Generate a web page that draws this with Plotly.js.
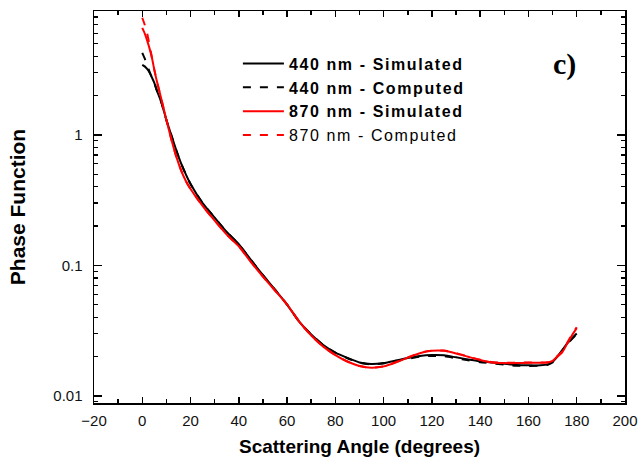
<!DOCTYPE html>
<html>
<head>
<meta charset="utf-8">
<script src="https://cdn.plot.ly/plotly-3.0.1.min.js"></script>
<style>
html,body{margin:0;padding:0;background:#fff;}
#chart{width:639px;height:464px;}
#chart .legendtext{letter-spacing:1.6px;}
#chart .legend .scrollbox{clip-path:none !important;}
#chart .legend{clip-path:none !important;}
</style>
</head>
<body>
<div id="chart"></div>
<script>
// Scattering angles (degrees)
const angles = [0,1,2,3,4,5,6,8,10,12,14,16,18,20,25,30,35,40,45,50,55,60,65,70,75,80,85,90,95,100,105,110,115,120,125,130,135,140,145,150,155,160,165,168,170,172,174,176,178,180];

// 440 nm - Simulated
const sim440 = [3.44,3.35,3.2,3.0,2.75,2.5,2.2,1.75,1.30,1.0,0.77,0.61,0.50,0.42,0.30,0.232,0.180,0.145,0.110,0.084,0.065,0.050,0.037,0.0295,0.0245,0.0214,0.0195,0.0180,0.0175,0.0178,0.0186,0.0195,0.0202,0.0205,0.0204,0.0197,0.0190,0.0184,0.0180,0.0176,0.0172,0.0171,0.0171,0.0174,0.0182,0.0200,0.0224,0.0251,0.0275,0.0300];

// 440 nm - Computed
const comp440 = [4.25,3.85,3.45,3.05,2.75,2.5,2.2,1.75,1.30,1.0,0.77,0.61,0.50,0.42,0.30,0.232,0.180,0.145,0.110,0.084,0.065,0.050,0.037,0.0295,0.0245,0.0214,0.0194,0.0179,0.0174,0.0177,0.0184,0.0192,0.0199,0.0202,0.0201,0.0194,0.0187,0.0181,0.0177,0.0173,0.0170,0.0169,0.0170,0.0173,0.0180,0.0198,0.0222,0.0248,0.0272,0.0296];

// 870 nm - Simulated
const sim870 = [6.6,6.0,5.3,4.6,3.9,3.15,2.6,1.85,1.30,0.93,0.69,0.54,0.445,0.385,0.285,0.22,0.172,0.140,0.106,0.082,0.064,0.050,0.037,0.029,0.0238,0.0205,0.0183,0.0169,0.0164,0.0168,0.0180,0.0196,0.0212,0.0221,0.0221,0.0211,0.0199,0.0188,0.0180,0.0178,0.0178,0.0179,0.0179,0.0180,0.0185,0.0200,0.0215,0.0250,0.0290,0.0330];

// 870 nm - Computed
const comp870 = [7.9,7.0,6.0,4.9,3.9,3.15,2.6,1.85,1.30,0.93,0.69,0.54,0.445,0.385,0.285,0.22,0.172,0.140,0.106,0.082,0.064,0.050,0.037,0.029,0.0238,0.0205,0.0183,0.0169,0.0164,0.0168,0.0181,0.0197,0.0213,0.0222,0.0222,0.0212,0.0200,0.0189,0.0181,0.0179,0.0179,0.0180,0.0180,0.0181,0.0186,0.0202,0.0218,0.0254,0.0295,0.0335];

const seriesNames = ['<b>440 nm - Simulated</b>','<b>440 nm - Computed</b>','<b>870 nm - Simulated</b>','870 nm - Computed'];
const xTitle = 'Scattering Angle (degrees)';
const yTitle = 'Phase Function';
const panelLabel = 'c)';

const mk = (y, name, color, dash, grp) => ({
  x: angles, y: y, name: name, type: 'scatter', mode: 'lines',
  line: {color: color, width: 2, dash: dash, shape: 'spline', smoothing: 0.6},
  legendgroup: grp
});

const data = [
  mk(sim440, seriesNames[0], '#000000', 'solid', 'a'),
  mk(comp440, seriesNames[1], '#000000', '8px,9px', 'b'),
  mk(sim870, seriesNames[2], '#ff0000', 'solid', 'c'),
  mk(comp870, seriesNames[3], '#ff0000', '8px,9px', 'd')
];

const font = {family: '"Liberation Sans", Arial, sans-serif', color: '#000'};

const layout = {
  width: 639, height: 464,
  margin: {l: 94, r: 14, t: 11, b: 61, pad: 0},
  paper_bgcolor: '#fff', plot_bgcolor: '#fff',
  font: font,
  showlegend: true,
  legend: {
    x: 0.271, y: 0.909, xanchor: 'left', yanchor: 'top',
    font: {family: font.family, size: 16, color: '#000'},
    bgcolor: 'rgba(0,0,0,0)', borderwidth: 0,
    itemwidth: 41,
    traceorder: 'normal', tracegroupgap: 0
  },
  xaxis: {
    range: [-20, 200], tick0: 0, dtick: 20,
    ticks: 'inside', ticklen: 6, tickwidth: 1.5, tickcolor: '#000',
    minor: {ticks: 'inside', ticklen: 4, tickwidth: 1.5, dtick: 10, tick0: 0, tickcolor: '#000'},
    showline: true, linewidth: 1.5, linecolor: '#000', mirror: 'ticks',
    showgrid: false, zeroline: false,
    tickfont: {family: font.family, size: 15, color: '#111'},
    ticklabelstandoff: 3,
    title: {text: '<b>' + xTitle + '</b>', font: {family: font.family, size: 19, color: '#000'}, standoff: 12}
  },
  yaxis: {
    type: 'log', range: [Math.log10(0.0088), Math.log10(8.9)], dtick: 1,
    ticks: 'inside', ticklen: 8, tickwidth: 1.5, tickcolor: '#000',
    minor: {ticks: 'inside', ticklen: 4, tickwidth: 1.2, dtick: 'D1', tickcolor: '#000'},
    showline: true, linewidth: 1.5, linecolor: '#000', mirror: 'ticks',
    showgrid: false, zeroline: false,
    tickfont: {family: font.family, size: 15, color: '#111'},
    ticklabelstandoff: 7,
    title: {text: '<b>' + yTitle + '</b>', font: {family: font.family, size: 21, color: '#000'}, standoff: 22}
  },
  annotations: [{
    text: '<b>' + panelLabel + '</b>', xref: 'paper', yref: 'paper',
    x: 0.887, y: 0.865, xanchor: 'center', yanchor: 'middle', showarrow: false,
    font: {family: '"Liberation Serif", "Times New Roman", serif', size: 30, color: '#000'}
  }]
};

Plotly.newPlot('chart', data, layout, {displayModeBar: false, staticPlot: true});
</script>
</body>
</html>
